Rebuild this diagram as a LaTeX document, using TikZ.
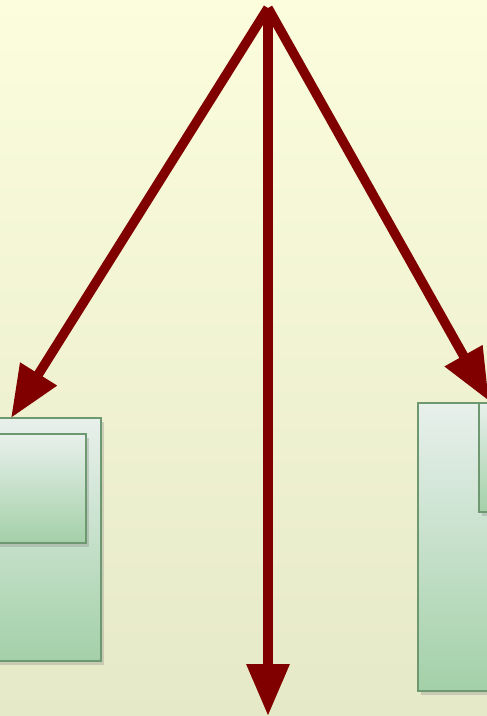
\documentclass[tikz,border=0pt]{standalone}
\usepackage{xcolor}
\usetikzlibrary{arrows.meta,shadows}

\definecolor{bgtop}{RGB}{251,253,220}
\definecolor{bgbot}{RGB}{230,233,199}
\definecolor{arrred}{RGB}{128,0,0}
\definecolor{boxline}{RGB}{110,152,112}
\definecolor{boxtop}{RGB}{232,240,236}
\definecolor{boxbot}{RGB}{163,208,168}

\tikzset{
	panel/.style={draw=boxline, line width=2pt, inner sep=0pt, outer sep=0pt,
		top color=boxtop, bottom color=boxbot,
		drop shadow={shadow xshift=3pt, shadow yshift=-4pt, opacity=0.3}},
	arr/.style={draw=arrred, line width=9.5pt, -{Triangle[length=52pt,width=41pt]}}
}

\begin{document}
\begin{tikzpicture}[x=1pt,y=-1pt]
			\useasboundingbox (0,0) rectangle (487,716);
			\shade[top color=bgtop, bottom color=bgbot] (0,0) rectangle (487,716);
			% left pair of panels
			\node[panel, minimum width=141pt, minimum height=243pt] at (30.5,539.5) (lout){};
			\node[panel, minimum width=126pt, minimum height=109pt] at (23,488.5) (lin){};
			% right pair of panels
			\node[panel, minimum width=112pt, minimum height=288pt] at (474,547) (rout){};
			\node[panel, minimum width=61pt, minimum height=109pt] at (509.5,457.5) (rin){};
			\coordinate (top) at (268,8);
			\coordinate (lend) at (11,418);
			\coordinate (rend) at (489,401);
			\coordinate (bend) at (268,716);
			\draw[arr] (top) -- (lend);
			\draw[arr] (top) -- (bend);
			\draw[arr] (top) -- (rend);
		\end{tikzpicture}
\end{document}
